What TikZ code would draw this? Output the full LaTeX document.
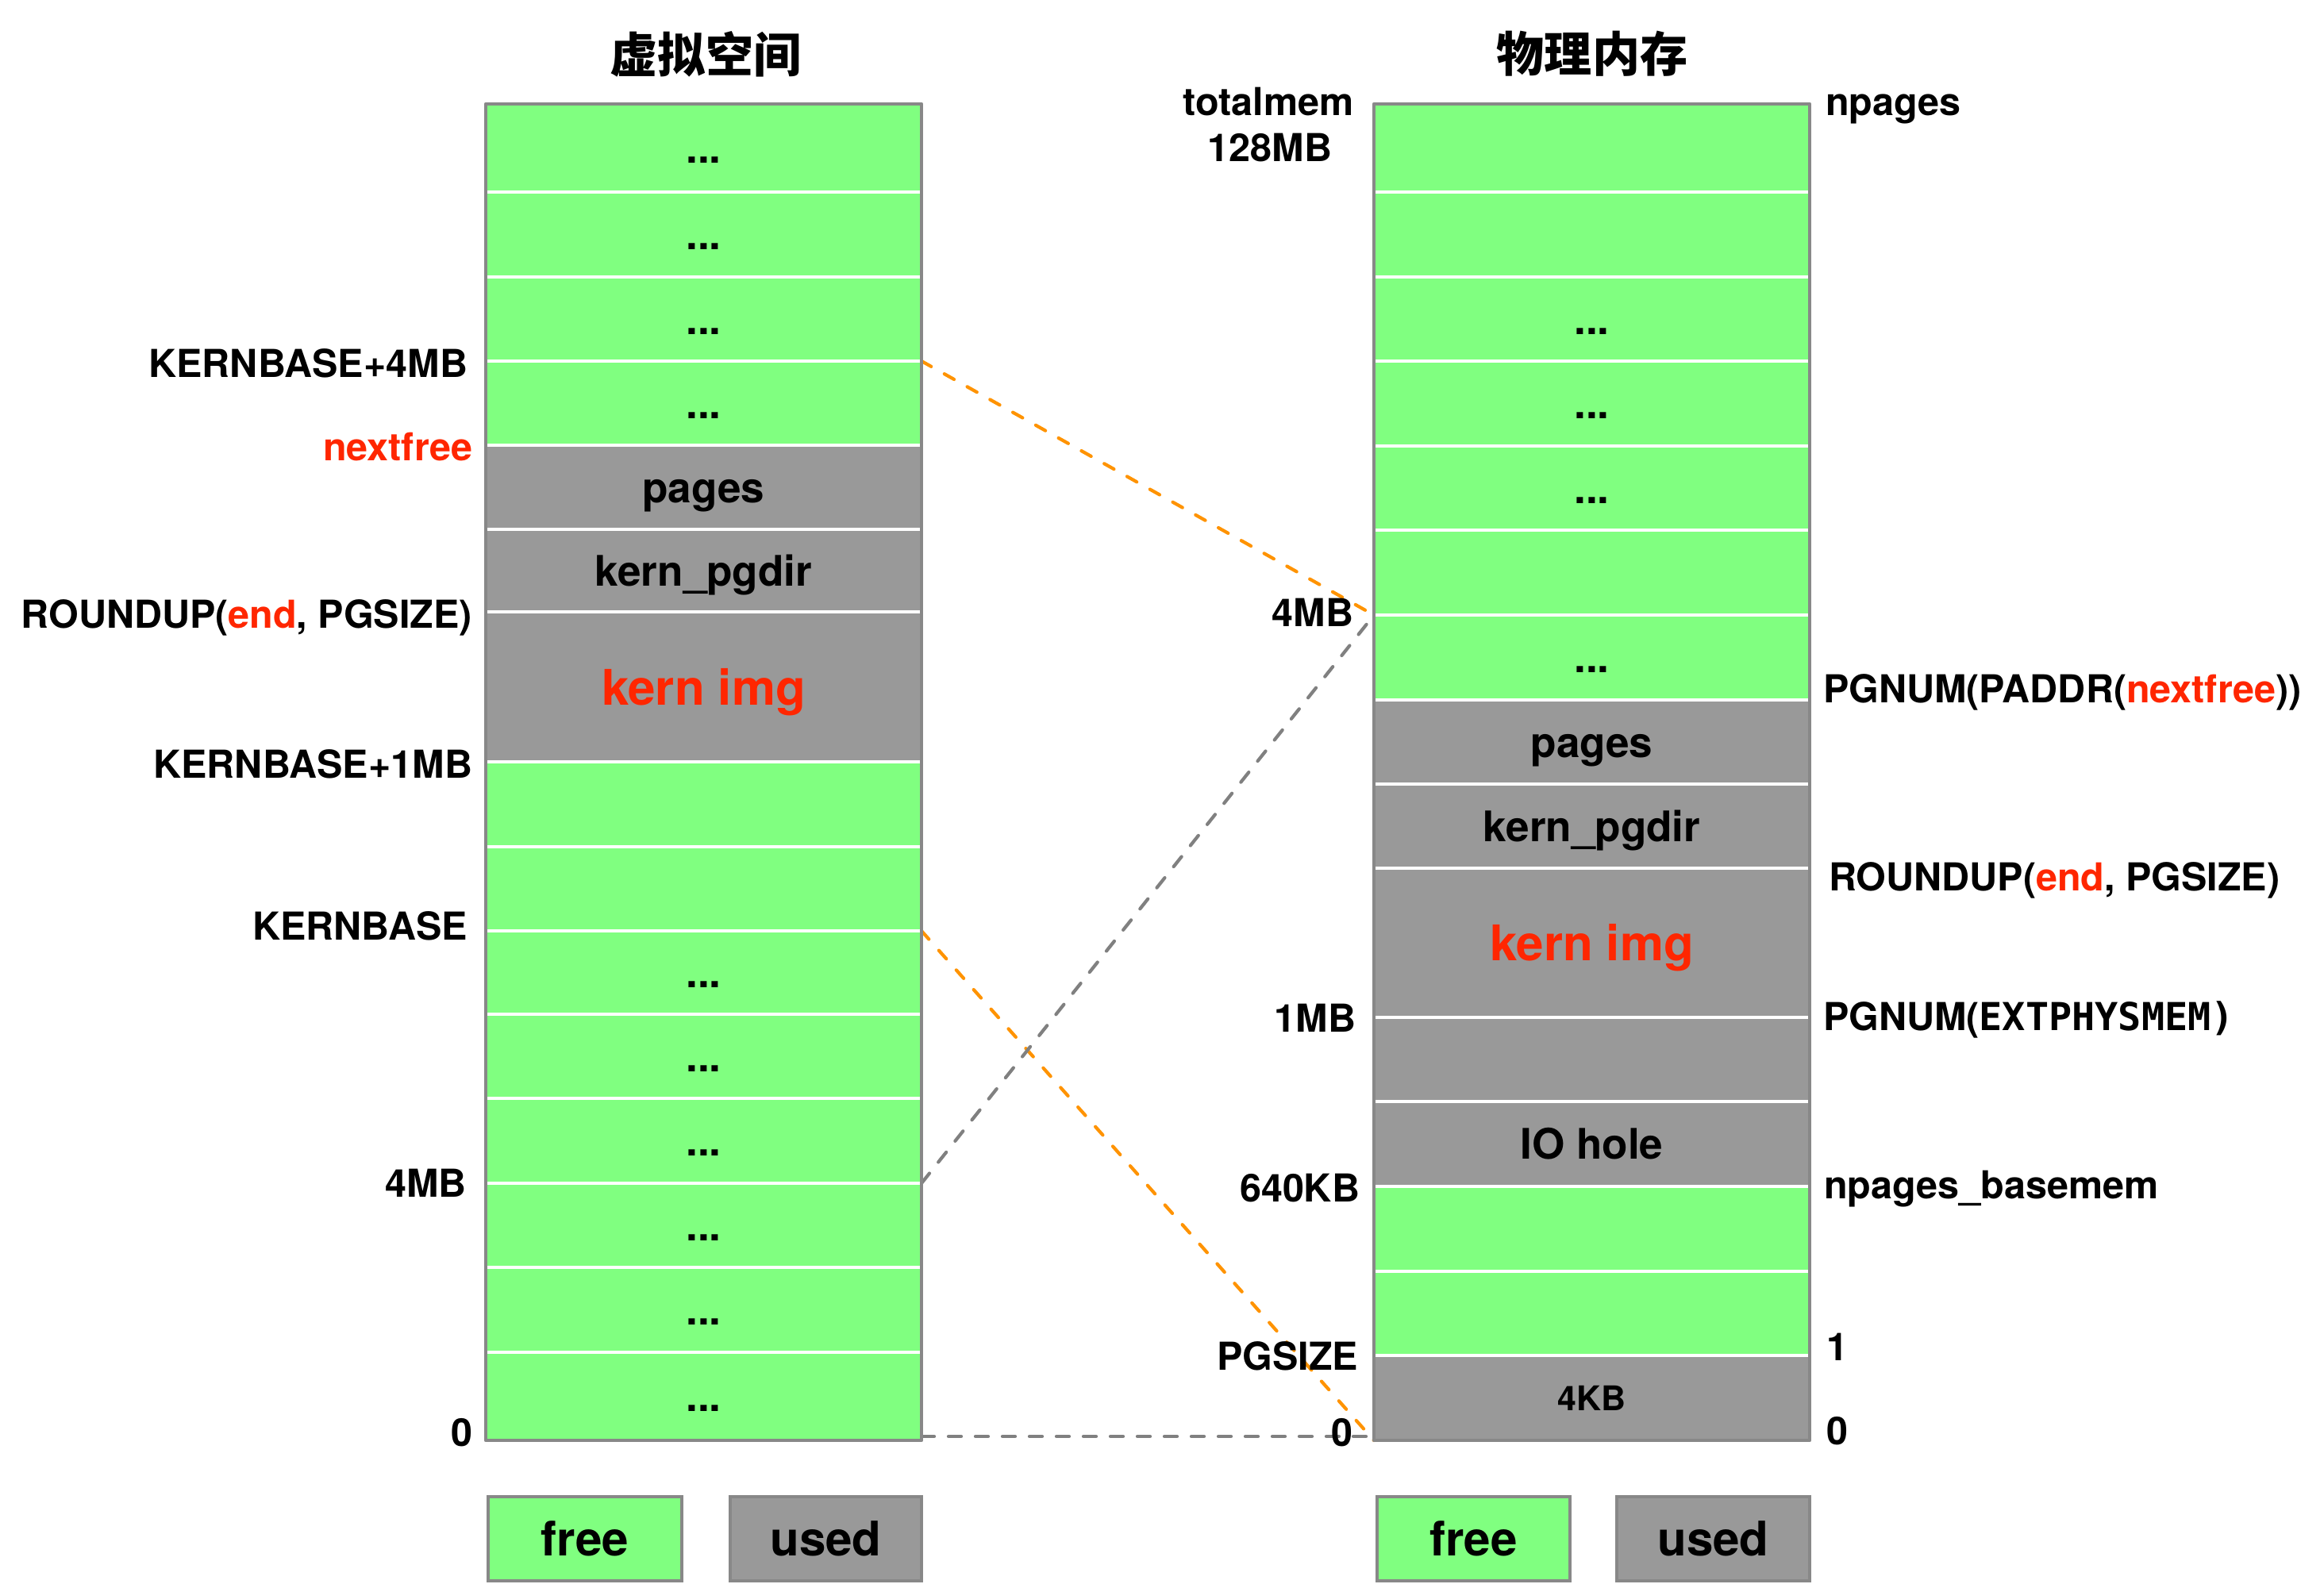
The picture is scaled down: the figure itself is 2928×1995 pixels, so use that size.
\documentclass[tikz,border=0pt]{standalone}
\usepackage{fontspec}
\setmainfont{TeX Gyre Heros}
\newfontfamily\cjkfont{Noto Sans CJK SC}
\newfontfamily\monobfont{DejaVu Sans Mono}
\definecolor{freeg}{RGB}{128,255,128}
\definecolor{usedg}{RGB}{153,153,153}
\definecolor{bordg}{RGB}{136,136,136}
\definecolor{kred}{RGB}{255,38,0}
\definecolor{dorange}{RGB}{255,147,0}
\definecolor{dgrey}{RGB}{128,128,128}
\newcommand{\cellt}[1]{\vphantom{X}\smash{#1}}
\newcommand{\memcell}[7]{\node[#6, minimum width={(#3-#2)*0.1mm}, minimum height={(#5-#4)*0.1mm}] (#1) at ({(#2+#3)/2},{(#4+#5)/2}) {\cellt{#7}};}
\begin{document}
\begin{tikzpicture}[x=0.1mm,y=-0.1mm,
  cellbox/.style={draw=white, line width=0.35mm, inner sep=0pt, outer sep=0pt,
    font=\bfseries\fontsize{15.1}{18}\selectfont},
  freec/.style={cellbox, fill=freeg},
  usedc/.style={cellbox, fill=usedg},
  bigred/.style={text=kred, font=\bfseries\fontsize{17.6}{20}\selectfont},
  colborder/.style={draw=bordg, line width=0.45mm, line join=round},
  sidelbl/.style={inner sep=0pt, outer sep=0pt, font=\bfseries\fontsize{13.8}{16}\selectfont},
  titlelbl/.style={inner sep=0pt, font=\cjkfont\bfseries\fontsize{17.1}{20}\selectfont},
  legendbox/.style={draw=bordg, line width=0.45mm, inner sep=0pt, outer sep=0pt,
    font=\bfseries\fontsize{17.1}{20}\selectfont},
  odash/.style={draw=dorange, line width=0.42mm, dash pattern=on 1.4mm off 1.9mm, line cap=round},
  gdash/.style={draw=dgrey, line width=0.42mm, dash pattern=on 1.6mm off 1.8mm, line cap=round}]
\useasboundingbox (0,0) rectangle (2928,1995);

% titles
\node[titlelbl] (t1) at (889,68) {虚拟空间};
\node[titlelbl] (t2) at (2006,68) {物理内存};

% virtual space column
\memcell{v1}{612}{1161}{131}{242}{freec}{...}
\memcell{v2}{612}{1161}{242}{349}{freec}{...}
\memcell{v3}{612}{1161}{349}{455}{freec}{...}
\memcell{v4}{612}{1161}{455}{561}{freec}{...}
\memcell{v5}{612}{1161}{561}{667}{usedc}{pages}
\memcell{v6}{612}{1161}{667}{771}{usedc}{kern\_pgdir}
\memcell{v7}{612}{1161}{771}{960}{usedc,bigred}{kern img}
\memcell{v8}{612}{1161}{960}{1067}{freec}{}
\memcell{v9}{612}{1161}{1067}{1173}{freec}{}
\memcell{v10}{612}{1161}{1173}{1278}{freec}{...}
\memcell{v11}{612}{1161}{1278}{1384}{freec}{...}
\memcell{v12}{612}{1161}{1384}{1491}{freec}{...}
\memcell{v13}{612}{1161}{1491}{1597}{freec}{...}
\memcell{v14}{612}{1161}{1597}{1704}{freec}{...}
\memcell{v15}{612}{1161}{1704}{1815}{freec}{...}

% physical memory column
\memcell{p1}{1731}{2280}{131}{242}{freec}{}
\memcell{p2}{1731}{2280}{242}{349}{freec}{}
\memcell{p3}{1731}{2280}{349}{455}{freec}{...}
\memcell{p4}{1731}{2280}{455}{562}{freec}{...}
\memcell{p5}{1731}{2280}{562}{668}{freec}{...}
\memcell{p6}{1731}{2280}{668}{775}{freec}{}
\memcell{p7}{1731}{2280}{775}{882}{freec}{...}
\memcell{p8}{1731}{2280}{882}{988}{usedc}{pages}
\memcell{p9}{1731}{2280}{988}{1094}{usedc}{kern\_pgdir}
\memcell{p10}{1731}{2280}{1094}{1282}{usedc,bigred}{kern img}
\memcell{p11}{1731}{2280}{1282}{1388}{usedc}{}
\memcell{p12}{1731}{2280}{1388}{1495}{usedc}{IO hole}
\memcell{p13}{1731}{2280}{1495}{1602}{freec}{}
\memcell{p14}{1731}{2280}{1602}{1708}{freec}{}
\memcell{p15}{1731}{2280}{1708}{1815}{usedc,font=\bfseries\fontsize{12.2}{14}\selectfont}{4KB}

% mapping lines
\draw[odash] (v3.south east) -- (p6.south west);
\draw[odash] (v9.south east) -- (p15.south west);
\draw[gdash] (v12.south east) -- (p6.south west);
\draw[gdash] ([yshift=0.5mm]v15.south east) -- ([yshift=0.5mm]p15.south west);

% column borders
\draw[colborder] (v1.north west) rectangle (v15.south east);
\draw[colborder] (p1.north west) rectangle (p15.south east);

% left labels of virtual space
\node[sidelbl, anchor=base east] (l1) at (589,475) {KERNBASE+4MB};
\node[sidelbl, anchor=base east, text=kred] (l2) at (595,580) {nextfree};
\node[sidelbl, anchor=base east] (l3) at (595,791) {ROUNDUP(\textcolor{kred}{end}, PGSIZE)};
\node[sidelbl, anchor=base east] (l4) at (595,980) {KERNBASE+1MB};
\node[sidelbl, anchor=base east] (l5) at (589,1184) {KERNBASE};
\node[sidelbl, anchor=base east] (l6) at (588,1508) {4MB};
\node[sidelbl, anchor=base east] (l7) at (595,1822) {0};

% left labels of physical memory
\node[sidelbl, anchor=base] (m1) at (1598,145) {totalmem};
\node[sidelbl, anchor=base] (m2) at (1600,203) {128MB};
\node[sidelbl, anchor=base east] (m3) at (1705,789) {4MB};
\node[sidelbl, anchor=base east] (m4) at (1708,1300) {1MB};
\node[sidelbl, anchor=base east] (m5) at (1713,1514) {640KB};
\node[sidelbl, anchor=base east] (m6) at (1711,1726) {PGSIZE};
\node[sidelbl, anchor=base east] (m7) at (1704,1822) {0};

% right labels of physical memory
\node[sidelbl, anchor=base west] (r1) at (2300,145) {npages};
\node[sidelbl, anchor=base west] (r2) at (2297,885) {PGNUM(PADDR(\textcolor{kred}{nextfree}))};
\node[sidelbl, anchor=base west] (r3) at (2304,1122) {ROUNDUP(\textcolor{kred}{end}, PGSIZE)};
\node[sidelbl, anchor=base west] (r4) at (2297,1298) {PGNUM({\monobfont EXTPHYSMEM)}};
\node[sidelbl, anchor=base west] (r5) at (2298,1510) {npages\_basemem};
\node[sidelbl, anchor=base west] (r6) at (2301,1714) {1};
\node[sidelbl, anchor=base west] (r7) at (2301,1820) {0};

% legends
\node[legendbox, fill=freeg, minimum width=24.4mm, minimum height=10.6mm] (lf1) at (737,1939) {\cellt{free}};
\node[legendbox, fill=usedg, minimum width=24.1mm, minimum height=10.6mm] (lu1) at (1040.5,1939) {\cellt{used}};
\node[legendbox, fill=freeg, minimum width=24.3mm, minimum height=10.6mm] (lf2) at (1856.5,1939) {\cellt{free}};
\node[legendbox, fill=usedg, minimum width=24.3mm, minimum height=10.6mm] (lu2) at (2158.5,1939) {\cellt{used}};
\end{tikzpicture}
\end{document}
